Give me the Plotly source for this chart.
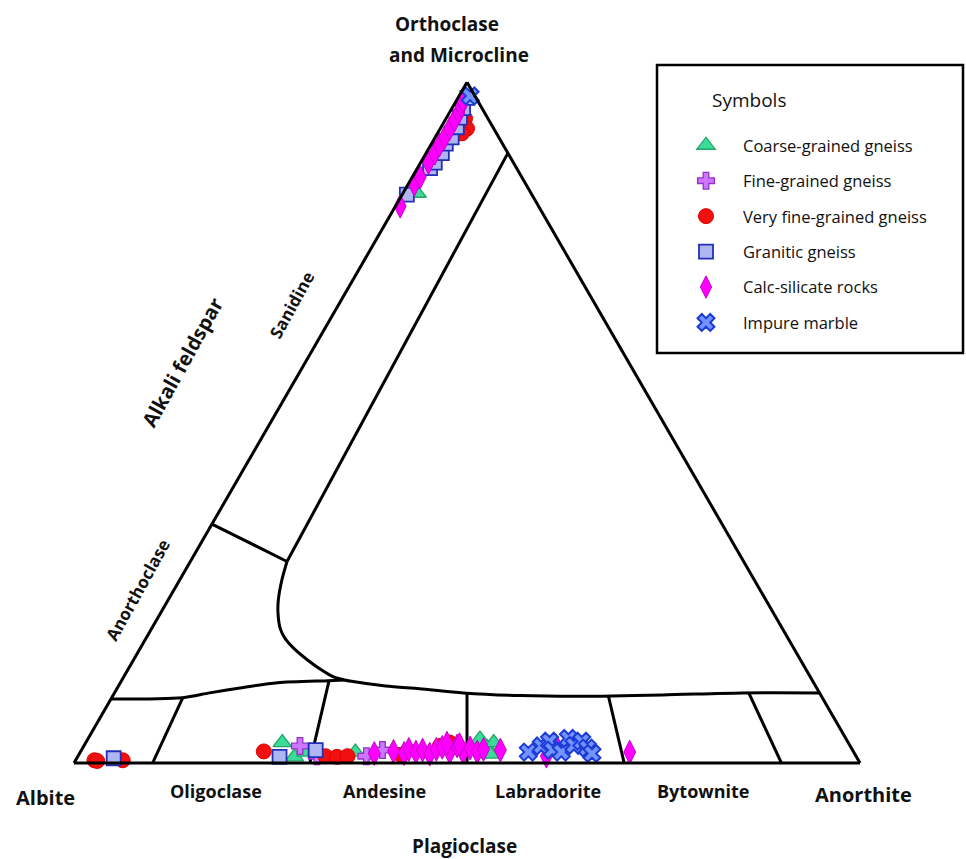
import plotly.graph_objects as go

W, H = 966, 859

# ---------------- data (Or, An in %; Ab = 100 - Or - An) ----------------
series_names = ["Coarse-grained gneiss", "Fine-grained gneiss", "Very fine-grained gneiss",
                "Granitic gneiss", "Calc-silicate rocks", "Impure marble"]

coarse_or = [3.0, 0.9, 1.6, 1.6, 3.5, 2.3, 3.0, 1.3, 83.7, 97.5]
coarse_an = [25.0, 27.6, 28.7, 35.0, 49.9, 51.4, 51.9, 52.3, 1.8, 1.2]

fine_or = [2.5, 1.0, 1.0, 1.9, 90.5]
fine_an = [27.5, 30.4, 36.7, 38.3, 1.5]

vfine_or = [0.4, 0.3, 0.4, 1.7, 1.0, 0.9, 1.0, 1.2, 2.5, 3.0, 94.7, 93.2, 92.5]
vfine_an = [2.4, 2.8, 6.0, 23.3, 31.5, 33.0, 34.3, 41.0, 45.3, 46.3, 2.4, 3.4, 3.1]

gran_or = [0.7, 0.9, 1.9, 83.5, 87.4, 88.2, 89.6, 91.0, 91.9, 93.4, 94.8, 96.2, 97.7]
gran_an = [4.7, 25.7, 29.8, 0.6, 1.6, 1.8, 2.0, 1.8, 2.1, 2.0, 1.7, 1.4, 1.2]

calc_or = [81.8, 85.0, 86.1, 88.2, 89.6, 90.8, 91.9, 93.2, 94.4, 95.5, 96.5, 97.3,
           1.4, 1.7, 1.4, 2.0, 1.6, 1.9, 1.3, 2.0, 2.3, 1.6, 2.5, 1.6, 2.2, 1.6,
           2.0, 1.9, 1.0, 2.5, 1.6, 2.9, 2.7]
calc_an = [0.6, 0.8, 1.0, 1.0, 1.1, 1.1, 1.2, 1.2, 1.2, 1.2, 1.0, 0.8,
           37.5, 39.8, 41.3, 41.6, 42.7, 43.4, 44.6, 45.1, 45.7, 47.0, 47.5, 48.7, 49.3, 50.5,
           51.1, 53.3, 59.6, 60.1, 69.9, 46.0, 47.7]

marble_or = [1.6, 2.5, 3.2, 1.9, 1.6, 3.6, 2.6, 3.2, 2.2, 1.4, 98.0]
marble_an = [57.0, 58.2, 58.9, 59.9, 61.2, 61.1, 62.3, 63.0, 64.2, 65.2, 1.4]

# ---------------- field boundaries (Or, An in %) ----------------
sanidine_or = [89.6, 29.6]
sanidine_an = [10.4, 12.3]

curve_or = [29.6, 26.9, 24.0, 22.1, 19.7, 18.3, 16.8, 15.1, 13.7, 12.7, 12.2, 12.0,
            11.3, 10.9, 10.3, 9.9, 9.8, 10.0, 10.3, 10.3]
curve_an = [12.3, 13.0, 14.0, 14.9, 16.4, 17.7, 19.6, 22.2, 24.6, 26.6, 28.3, 29.3,
            34.0, 38.5, 44.4, 51.9, 59.7, 69.9, 79.8, 89.7]

lower_or = [9.4, 9.6, 10.3, 11.1, 11.8, 12.1, 12.2]
lower_an = [0.0, 9.0, 12.1, 16.0, 20.0, 26.3, 28.3]

anortho_or = [35.1, 29.6]
anortho_an = [0.0, 12.3]

divider_base_an = [10, 30, 50, 70, 90]
divider_top_or = [9.5, 12.1, 10.3, 9.8, 10.3]
divider_top_an = [9.05, 26.4, 44.85, 63.1, 80.7]

plag_labels = ["Oligoclase", "Andesine", "Labradorite", "Bytownite"]

# ---------------- figure ----------------
fig = go.Figure()

def ab(or_list, an_list):
    return [100 - o - a for o, a in zip(or_list, an_list)]

def boundary(or_list, an_list, shape="linear"):
    fig.add_trace(go.Scatterternary(
        a=or_list, b=ab(or_list, an_list), c=an_list, mode="lines",
        line=dict(color="black", width=3, shape=shape, smoothing=0.8),
        showlegend=False, hoverinfo="skip", cliponaxis=False))

boundary(sanidine_or, sanidine_an)
boundary(curve_or, curve_an, "spline")
boundary(lower_or, lower_an, "spline")
boundary(anortho_or, anortho_an)
for f, to, ta in zip(divider_base_an, divider_top_or, divider_top_an):
    boundary([0, to], [f, ta])

styles = [
    dict(symbol="triangle-up", size=16, color="#3CDB98", line=dict(color="#1FA667", width=1.3)),
    dict(symbol="cross", size=14, color="#CC77FF", line=dict(color="#9630C8", width=1.3)),
    dict(symbol="circle", size=15, color="#F01010", line=dict(color="#E00000", width=1)),
    dict(symbol="square", size=14, color="#AEB6F2", line=dict(color="#2230B8", width=1.8)),
    dict(symbol="diamond-tall", size=17, color="#FF00FF", line=dict(color="#C800C8", width=1)),
    dict(symbol="x", size=15, color="#7393FF", line=dict(color="#1C3CD8", width=2)),
]
series_or = [coarse_or, fine_or, vfine_or, gran_or, calc_or, marble_or]
series_an = [coarse_an, fine_an, vfine_an, gran_an, calc_an, marble_an]

for i, (name, o, a, st) in enumerate(zip(series_names, series_or, series_an, styles)):
    fig.add_trace(go.Scatterternary(
        a=o, b=ab(o, a), c=a, mode="markers", name=name, legendgroup=f"g{i}",
        marker=st, cliponaxis=False,
        hovertemplate="Or %{a:.1f}<br>Ab %{b:.1f}<br>An %{c:.1f}<extra>" + name + "</extra>"))

axis_style = dict(showticklabels=False, ticks="", showgrid=False, showline=True,
                  linecolor="black", linewidth=3, title=dict(text=""))

# triangle: base from x=74 to 860 px, bottom at y=763 px
tri_w = 786
xc = 467 / W
yc = 1 - (763 - tri_w * 3 ** 0.5 / 4) / H
dx = tri_w / W / 2

fig.update_layout(
    width=W, height=H, autosize=False,
    margin=dict(l=0, r=0, t=0, b=0),
    paper_bgcolor="white",
    ternary=dict(
        sum=100, bgcolor="white",
        domain=dict(x=[xc - dx, xc + dx], y=[yc - 0.40, yc + 0.40]),
        aaxis=axis_style, baxis=axis_style, caxis=axis_style),
    font=dict(family="Open Sans, Noto Sans, sans-serif", color="#111"),
    showlegend=True,
    legend=dict(
        x=669 / W, y=1 - 128 / H, xanchor="left", yanchor="top",
        bgcolor="rgba(0,0,0,0)", borderwidth=0,
        font=dict(size=16.5, family="Open Sans, sans-serif", color="#111"),
        traceorder="grouped", tracegroupgap=11, itemwidth=64, itemclick=False),
)

# legend frame
fig.add_shape(type="rect", xref="paper", yref="paper",
              x0=657 / W, x1=963 / W, y0=1 - 353 / H, y1=1 - 65 / H,
              line=dict(color="black", width=2.5), fillcolor="rgba(0,0,0,0)")

def label(text, x, y, size, angle=0, bold=True):
    fig.add_annotation(text=f"<b>{text}</b>" if bold else text,
                       x=x / W, y=1 - y / H, xref="paper", yref="paper",
                       showarrow=False, textangle=angle,
                       font=dict(size=size, color="#111", family="Open Sans, sans-serif"),
                       xanchor="center", yanchor="middle")

label("Orthoclase", 447, 24, 19)
label("and Microcline", 459, 55, 19)
label("Albite", 45, 797, 20)
label("Anorthite", 863, 794, 20)
label("Plagioclase", 464, 846, 19)
for t, x in zip(plag_labels, [216, 384, 548, 703]):
    label(t, x, 791, 18)
label("Alkali feldspar", 182, 362, 20, -61)
label("Sanidine", 291, 305, 17, -61)
label("Anorthoclase", 137, 590, 17, -61)
label("Symbols", 749, 100, 19, bold=False)

fig.write_html("out.html")
